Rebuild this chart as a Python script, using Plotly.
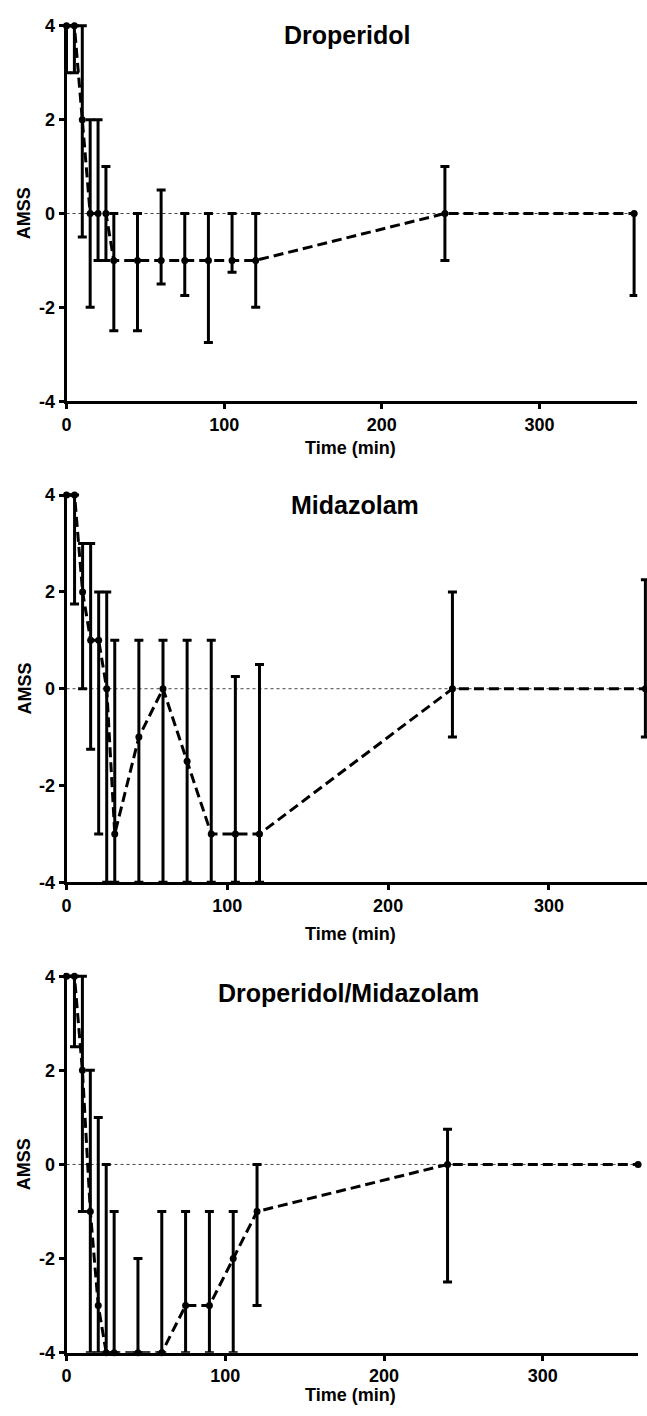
import plotly.graph_objects as go

W, H = 647, 1416

time_min = [0, 5, 10, 15, 20, 25, 30, 45, 60, 75, 90, 105, 120, 240, 360]

# Droperidol
drop_val = [4, 4, 2, 0, 0, 0, -1, -1, -1, -1, -1, -1, -1, 0, 0]
drop_lo = [3, 3, -0.5, -2, -1, -1, -2.5, -2.5, -1.5, -1.75, -2.75, -1.25, -2, -1, -1.75]
drop_hi = [4, 4, 4, 2, 2, 1, 0, 0, 0.5, 0, 0, 0, 0, 1, 0]

# Midazolam
mid_val = [4, 4, 2, 1, 1, 0, -3, -1, 0, -1.5, -3, -3, -3, 0, 0]
mid_lo = [4, 1.75, 0, -1.25, -3, -4, -4, -4, -4, -4, -4, -4, -4, -1, -1]
mid_hi = [4, 4, 3, 3, 2, 2, 1, 1, 1, 1, 1, 0.25, 0.5, 2, 2.25]

# Droperidol/Midazolam
dm_val = [4, 4, 2, -1, -3, -4, -4, -4, -4, -3, -3, -2, -1, 0, 0]
dm_lo = [4, 2.5, -1, -4, -4, -4, -4, -4, -4, -4, -4, -4, -3, -2.5, 0]
dm_hi = [4, 4, 4, 2, 1, 0, -1, -2, -1, -1, -1, -1, 0, 0.75, 0]

titles = ["Droperidol", "Midazolam", "Droperidol/Midazolam"]
x_ticks = [0, 100, 200, 300]
y_ticks = [-4, -2, 0, 2, 4]

series = [(drop_val, drop_lo, drop_hi), (mid_val, mid_lo, mid_hi), (dm_val, dm_lo, dm_hi)]

# pixel geometry: x0 = x of t=0, pxmin = pixels per minute, xmax = range end,
# top = y of value 4, bot = y of value -4
panels = [
    dict(x0=62, pxmin=572 / 360, xmax=362, top=19, bot=399, tx=345, ty=28, tfs=25, xly=446),
    dict(x0=62, pxmin=585 / 361, xmax=361, top=494, bot=886, tx=353, ty=504, tfs=25, xly=938),
    dict(x0=62, pxmin=576 / 360, xmax=360, top=981, bot=1362, tx=346, ty=998, tfs=25, xly=1405),
]
YTOP = 4.06

FONT = "Liberation Sans, Arial, sans-serif"


def px(x):
    return x / W


def py(y):
    return 1 - y / H


fig = go.Figure()
layout = dict(
    width=W, height=H,
    margin=dict(l=0, r=0, t=0, b=0),
    paper_bgcolor="white", plot_bgcolor="white",
    showlegend=False,
    font=dict(family=FONT, color="black"),
)
annotations = []
shapes = []

for i, (p, (val, lo, hi)) in enumerate(zip(panels, series)):
    n = i + 1
    xa = "x" if n == 1 else f"x{n}"
    ya = "y" if n == 1 else f"y{n}"
    err_plus, err_minus = [], []
    for t, v, l, h in zip(time_min, val, lo, hi):
        if h == v and l == v:
            err_plus.append(None)
            err_minus.append(None)
        else:
            err_plus.append(h - v)
            err_minus.append(v - l)
    fig.add_trace(go.Scatter(
        x=time_min, y=val, xaxis=xa, yaxis=ya,
        mode="lines+markers",
        line=dict(color="black", width=3, dash="10px,5px"),
        marker=dict(color="black", size=7),
        error_y=dict(type="data", symmetric=False, array=err_plus, arrayminus=err_minus,
                     color="black", thickness=3, width=4.5),
        cliponaxis=False,
    ))
    x1 = p["x0"] + p["pxmin"] * p["xmax"]
    unit = (p["bot"] - p["top"]) / 8
    top_px = p["top"] - unit * (YTOP - 4)
    xkey = "xaxis" if n == 1 else f"xaxis{n}"
    ykey = "yaxis" if n == 1 else f"yaxis{n}"
    layout[xkey] = dict(
        domain=[px(p["x0"]), min(1.0, px(x1))], anchor=ya, range=[0, p["xmax"]],
        tickvals=x_ticks, ticktext=[f"<b>{t}</b>" for t in x_ticks],
        ticks="outside", ticklen=5, tickwidth=3, tickcolor="black",
        showline=True, linewidth=3, linecolor="black",
        showgrid=False, zeroline=False,
        tickfont=dict(size=18, family=FONT, color="black"),
    )
    layout[ykey] = dict(
        domain=[py(p["bot"]), py(top_px)], anchor=xa, range=[-4, YTOP],
        tickvals=y_ticks, ticktext=[f"<b>{t}</b>" for t in y_ticks],
        ticks="outside", ticklen=5, tickwidth=3, tickcolor="black",
        showline=True, linewidth=3, linecolor="black",
        showgrid=False, zeroline=False,
        tickfont=dict(size=18, family=FONT, color="black"),
    )
    shapes.append(dict(type="line", xref=xa, yref=ya, x0=0, x1=360, y0=0, y1=0,
                       line=dict(color="#444", width=1, dash="dot"), layer="below"))
    annotations.append(dict(text=f"<b>{titles[i]}</b>", xref="paper", yref="paper",
                            x=px(p["tx"]), y=py(p["ty"]), showarrow=False,
                            xanchor="center", yanchor="middle",
                            font=dict(size=p["tfs"], family=FONT, color="black")))
    annotations.append(dict(text="<b>Time (min)</b>", xref="paper", yref="paper",
                            x=px((p["x0"] + min(x1, 634)) / 2), y=py(p["xly"]), showarrow=False,
                            xanchor="center", yanchor="middle",
                            font=dict(size=18, family=FONT, color="black")))
    annotations.append(dict(text="<b>AMSS</b>", xref="paper", yref="paper",
                            x=px(20), y=py((p["top"] + p["bot"]) / 2), showarrow=False,
                            xanchor="center", yanchor="middle", textangle=-90,
                            font=dict(size=18, family=FONT, color="black")))

layout["annotations"] = annotations
layout["shapes"] = shapes
fig.update_layout(**layout)
fig.write_html("out.html")
